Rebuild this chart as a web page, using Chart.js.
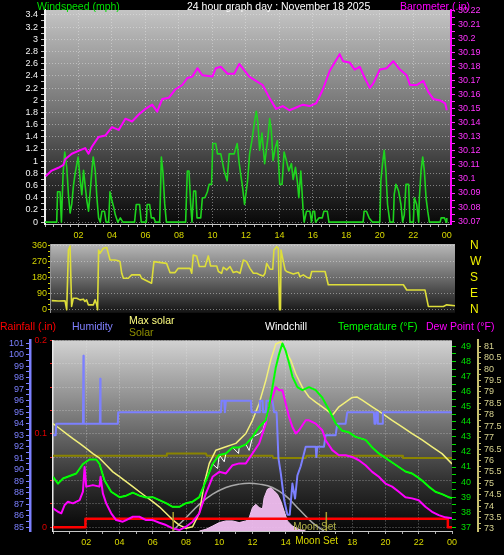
<!DOCTYPE html>
<html>
<head>
<meta charset="utf-8">
<script src="https://cdn.jsdelivr.net/npm/chart.js@4.4.0/dist/chart.umd.min.js"></script>
<style>
body { margin: 0; background: #000; }
#wrap { position: relative; width: 504px; height: 555px; background: #000; overflow: hidden; font-family: "Liberation Sans", Arial, sans-serif; }
canvas { position: absolute; left: 0; }
.lbl { position: absolute; font-size: 10.5px; line-height: 13px; white-space: nowrap; }
</style>
</head>
<body>
<div id="wrap">
  <canvas id="topChart" width="504" height="246" style="top:0px"></canvas>
  <canvas id="dirChart" width="504" height="86" style="top:235px"></canvas>
  <canvas id="bottomChart" width="504" height="225" style="top:330px"></canvas>

  <div class="lbl" style="left:37px;top:0px;color:#00e000">Windspeed (mph)</div>
  <div class="lbl" style="left:187px;top:0px;color:#ffffff">24 hour graph day : November 18 2025</div>
  <div class="lbl" style="left:400px;top:0px;color:#ff00ff">Barometer (.in)</div>

  <div class="lbl" style="left:0px;top:320px;color:#ff0000">Rainfall (.in)</div>
  <div class="lbl" style="left:72px;top:320px;color:#8080ff">Humidity</div>
  <div class="lbl" style="left:129px;top:314px;color:#ffff80">Max solar</div>
  <div class="lbl" style="left:129px;top:326px;color:#909000">Solar</div>
  <div class="lbl" style="left:265px;top:320px;color:#ffffff">Windchill</div>
  <div class="lbl" style="left:338px;top:320px;color:#00ff00">Temperature (°F)</div>
  <div class="lbl" style="left:426px;top:320px;color:#ff00ff">Dew Point (°F)</div>
</div>

<script>
// ---- data (hours since midnight) ----
const hourTicks = [2, 4, 6, 8, 10, 12, 14, 16, 18, 20, 22, 24];
const hourLabels = ['02', '04', '06', '08', '10', '12', '14', '16', '18', '20', '22', '00'];
const bottomHourLabels = ['02', '04', '06', '08', '10', '12', '14', '', '18', '20', '22', '00'];

const windTicks = [0, 0.2, 0.4, 0.6, 0.8, 1, 1.2, 1.4, 1.6, 1.8, 2, 2.2, 2.4, 2.6, 2.8, 3, 3.2, 3.4];
const baroTicks = [30.07, 30.08, 30.09, 30.1, 30.11, 30.12, 30.13, 30.14, 30.15, 30.16, 30.17, 30.18, 30.19, 30.2, 30.21, 30.22];
const dirTicks = [0, 90, 180, 270, 360];
const dirLetters = ['N', 'E', 'S', 'W', 'N'];
const humTicks = [85, 86, 87, 88, 89, 90, 91, 92, 93, 94, 95, 96, 97, 98, 99, 100, 101];
const rainTicks = [0, 0.1, 0.2];
const tempTicks = [37, 38, 39, 40, 41, 42, 43, 44, 45, 46, 47, 48, 49];
const insideTicks = [73, 73.5, 74, 74.5, 75, 75.5, 76, 76.5, 77, 77.5, 78, 78.5, 79, 79.5, 80, 80.5, 81];

const windHours = [
  0, 0.7, 0.75, 0.9, 0.98, 1.08, 1.18, 1.3, 1.4, 1.5,
  1.6, 1.7, 1.8, 1.9, 1.98, 2.1, 2.2, 2.3, 2.4, 2.5,
  2.6, 2.7, 2.8, 2.88, 3.0, 3.1, 3.2, 3.3, 3.4, 3.55,
  3.65, 3.8, 3.88, 4.0, 4.1, 4.2, 4.35, 4.5, 4.65, 5.35,
  5.45, 5.65, 5.75, 6.05, 6.1, 6.25, 6.35, 6.5, 6.6, 6.85,
  6.95, 7.05, 7.15, 7.25, 8.4, 8.5, 8.6, 8.7, 8.78, 8.88,
  9.0, 9.08, 9.3, 9.4, 9.55, 9.7, 9.8, 9.95, 10.02, 10.2,
  10.3, 10.5, 10.7, 10.88, 11.0, 11.3, 11.48, 11.6, 11.8, 11.92,
  12.1, 12.22, 12.36, 12.5, 12.62, 12.72, 12.82, 12.96, 13.12, 13.32,
  13.42, 13.52, 13.62, 13.76, 13.88, 14.02, 14.16, 14.28, 14.42, 14.56,
  14.72, 14.82, 14.96, 15.08, 15.16, 15.28, 15.42, 15.48, 15.62, 15.82,
  15.92, 16.0, 16.1, 16.16, 16.36, 16.56, 16.66, 16.86, 16.96, 19.0,
  19.06, 19.2, 19.36, 19.56, 20.0, 20.06, 20.16, 20.26, 20.36, 20.46,
  20.6, 20.8, 20.86, 20.96, 21.12, 21.26, 21.36, 21.46, 21.56, 21.72,
  21.8, 22.0, 22.06, 22.2, 22.32, 22.36, 22.46, 22.56, 22.66, 22.76,
  22.86, 22.96, 23.6, 23.66, 23.86, 23.96, 24
];
const windSpeed = [
  0, 0, 0.5, 0.5, 0, 0.8, 1.15, 0.9, 0.45, 0.15,
  0.3, 0.6, 0.8, 0.95, 1.07, 0.7, 0.45, 0.85, 0.6, 0.35,
  0.18, 0.5, 0.85, 1.07, 0.85, 0.4, 0.07, 0, 0.18, 0.18,
  0, 0, 0.5, 0.35, 0.25, 0.12, 0, 0.07, 0, 0,
  0.29, 0.29, 0, 0, 0.29, 0.29, 0.07, 0.07, 0, 0,
  1.07, 0.8, 0.3, 0, 0, 0.84, 0.84, 0.3, 0, 0.51,
  0.51, 0.07, 0.07, 0.4, 0.4, 0.5, 0.62, 0.62, 1.29, 1.29,
  1.12, 1.12, 0.84, 0.68, 1.12, 1.12, 1.29, 0.96, 0.57, 0.29,
  0.68, 1.12, 1.34, 1.62, 1.82, 1.62, 1.18, 1.46, 0.96, 1.4,
  1.7, 1.5, 1.01, 1.23, 1.34, 0.62, 0.62, 1.15, 1.01, 0.84,
  0.96, 0.7, 0.9, 0.65, 0.4, 0.84, 0.18, 0, 0.18, 0.18,
  0, 0.18, 0.18, 0, 0.07, 0.07, 0.18, 0.18, 0, 0,
  0.18, 0.18, 0.07, 0, 0, 0.68, 0.96, 1.18, 0.84, 0.29,
  0, 0, 0.46, 0.62, 0.51, 0.29, 0, 0.12, 0.62, 0.62,
  0, 0, 0.4, 0.29, 0, 0.4, 0.84, 1.07, 0.84, 0.4,
  0.18, 0, 0, 0.07, 0.07, 0, 0.07
];

const baroHours = [
  0.04, 0.4, 0.8, 1.1, 1.2, 1.6, 2.0, 2.4, 2.6, 2.8,
  3.2, 3.6, 4.0, 4.4, 4.8, 5.2, 5.6, 6.0, 6.4, 6.7,
  7.0, 7.4, 7.8, 8.2, 8.5, 8.8, 9.1, 9.4, 10.0, 10.2,
  10.5, 10.9, 11.3, 11.6, 11.8, 12.2, 12.6, 13.0, 13.4, 13.8,
  14.2, 14.6, 15.0, 15.4, 15.8, 16.2, 16.6, 17.0, 17.4, 17.6,
  17.8, 18.2, 18.5, 18.8, 19.1, 19.4, 19.6, 20.0, 20.4, 20.8,
  21.2, 21.6, 21.8, 22.2, 22.6, 22.9, 23.2, 23.6, 23.9, 24.0
];
const baroValues = [
  30.102, 30.106, 30.108, 30.110, 30.114, 30.118, 30.120, 30.122, 30.118, 30.123,
  30.130, 30.131, 30.137, 30.135, 30.143, 30.141, 30.146, 30.150, 30.153, 30.148,
  30.157, 30.158, 30.164, 30.167, 30.172, 30.173, 30.179, 30.174, 30.173, 30.179,
  30.180, 30.175, 30.175, 30.182, 30.179, 30.173, 30.170, 30.167, 30.158, 30.150,
  30.152, 30.149, 30.151, 30.153, 30.152, 30.154, 30.164, 30.177, 30.185, 30.189,
  30.184, 30.183, 30.178, 30.180, 30.172, 30.165, 30.168, 30.178, 30.179, 30.184,
  30.178, 30.174, 30.167, 30.167, 30.170, 30.162, 30.157, 30.156, 30.154, 30.149
];

const dirHours = [
  0.1, 0.5, 0.89, 0.99, 1.09, 1.19, 1.22, 1.28, 1.38, 1.58,
  1.78, 1.98, 2.07, 2.17, 2.27, 2.57, 2.67, 2.77, 2.82, 2.88,
  2.96, 3.16, 3.36, 3.56, 3.85, 4.05, 4.15, 4.25, 4.35, 4.64,
  4.84, 5.33, 5.43, 6.02, 6.16, 6.91, 7.11, 7.41, 7.6, 8.3,
  8.4, 8.49, 8.69, 8.85, 9.19, 9.38, 9.52, 9.88, 9.98, 10.17,
  10.27, 10.47, 10.67, 10.86, 11.06, 11.26, 11.46, 11.65, 11.85, 12.05,
  12.25, 12.44, 12.64, 12.74, 12.84, 13.04, 13.2, 13.27, 13.43, 13.53,
  13.6, 13.66, 13.69, 13.83, 13.93, 14.02, 14.42, 14.72, 14.81, 15.01,
  15.21, 15.41, 15.51, 16.3, 16.49, 20.94, 21.14, 22.22, 22.42, 23.31,
  23.51, 24
];
const dirValues = [
  52, 50, 51, 0, 337, 360, 360, 19, 65, 65,
  56, 60, 47, 56, 28, 28, 56, 28, 0, 337,
  319, 347, 352, 281, 281, 277, 272, 206, 178, 178,
  197, 197, 178, 150, 272, 262, 210, 210, 234, 234,
  206, 309, 304, 244, 244, 304, 247, 247, 216, 206,
  240, 225, 244, 210, 216, 206, 281, 272, 234, 206,
  206, 197, 191, 206, 262, 229, 229, 337, 356, 347,
  0, 0, 337, 272, 225, 216, 202, 210, 187, 197,
  184, 178, 216, 216, 141, 141, 112, 112, 19, 19,
  28, 23
];

const tempHours = [
  0, 0.3, 0.6, 1.0, 1.4, 1.8, 2.2, 2.6, 2.8, 3.1,
  3.5, 4.0, 4.4, 4.8, 5.2, 5.6, 6.0, 6.4, 6.8, 7.2,
  7.6, 8.0, 8.4, 8.8, 9.2, 9.6, 10.0, 10.4, 10.8, 11.2,
  11.6, 12.0, 12.4, 12.8, 13.0, 13.2, 13.4, 13.6, 13.8, 14.0,
  14.2, 14.4, 14.7, 15.0, 15.4, 15.8, 16.2, 16.6, 17.0, 17.4,
  17.8, 18.2, 18.8, 19.2, 19.6, 20.2, 20.8, 21.2, 21.6, 21.9,
  22.2, 22.6, 23.0, 23.4, 23.8, 24
];
const tempValues = [
  40.35, 39.9, 40.24, 40.4, 40.57, 41.2, 41.5, 41.5, 41.2, 40.1,
  39.36, 39.0, 39.1, 39.3, 39.1, 38.98, 39.0, 38.8, 38.6, 38.36,
  38.36, 38.6, 38.7, 39.0, 40.1, 41.2, 41.8, 41.9, 42.3, 42.3,
  42.5, 43.0, 43.66, 44.1, 45.0, 46.3, 47.6, 48.5, 49.2, 48.7,
  47.9, 47.0, 46.3, 46.1, 46.3, 46.1, 45.6, 44.8, 43.9, 43.4,
  43.3, 43.0, 42.8, 42.3, 41.9, 41.45, 41.0, 40.7, 40.57, 40.35,
  40.1, 39.7, 39.36, 39.2, 39.0, 38.95
];

const chillHours = [
  0, 0.3, 0.6, 1.0, 1.4, 1.8, 2.2, 2.6, 2.8, 3.1,
  3.5, 4.0, 4.4, 4.8, 5.2, 5.6, 6.0, 6.4, 6.8, 7.2,
  7.6, 8.0, 8.4, 8.8, 9.2, 9.6, 9.9, 10.0, 10.3, 10.4,
  10.8, 11.16, 11.2, 11.6, 11.8, 12.0, 12.4, 12.64, 12.8, 13.0,
  13.2, 13.4, 13.6, 13.8, 14.0, 14.2, 14.4, 14.7, 15.0, 15.4,
  15.8, 16.2, 16.6, 17.0, 17.4, 17.8, 18.2, 18.8, 19.2, 19.6,
  20.2, 20.8, 21.2, 21.6, 21.9, 22.2, 22.6, 23.0, 23.4, 23.8,
  24
];
const chillValues = [
  40.35, 39.9, 40.24, 40.4, 40.57, 41.2, 41.5, 41.5, 41.2, 40.1,
  39.36, 39.0, 39.1, 39.3, 39.1, 38.98, 39.0, 38.8, 38.6, 38.36,
  38.36, 38.6, 38.7, 39.0, 40.1, 41.2, 40.9, 41.8, 41.35, 41.9,
  42.3, 41.9, 42.3, 42.5, 42.1, 43.0, 43.2, 43.5, 44.1, 45.0,
  46.3, 47.6, 48.5, 49.2, 48.7, 47.9, 47.0, 46.3, 46.1, 46.3,
  46.1, 45.6, 44.8, 43.9, 43.4, 43.3, 43.0, 42.8, 42.3, 41.9,
  41.45, 41.0, 40.7, 40.57, 40.35, 40.1, 39.7, 39.36, 39.2, 39.0,
  38.95
];

const dewHours = [
  0, 0.3, 0.5, 0.7, 0.9, 1.2, 1.6, 1.8, 1.9, 2.0,
  2.4, 2.8, 2.86, 3.0, 3.2, 3.5, 3.8, 4.2, 4.4, 4.8,
  5.2, 5.6, 6.0, 6.4, 6.8, 7.2, 7.6, 8.0, 8.4, 8.8,
  9.2, 9.6, 10.0, 10.4, 10.8, 11.2, 11.6, 12.0, 12.4, 12.8,
  13.0, 13.2, 13.4, 13.6, 13.8, 14.0, 14.2, 14.4, 14.6, 14.8,
  15.0, 15.2, 15.4, 15.8, 16.2, 16.4, 16.8, 17.2, 17.6, 18.0,
  18.4, 18.8, 19.2, 19.6, 20.0, 20.4, 20.8, 21.2, 21.6, 22.0,
  22.4, 22.8, 23.2, 23.6, 24
];
const dewValues = [
  38.26, 38.03, 37.93, 38.48, 38.7, 38.59, 38.8, 39.36, 41.0, 39.7,
  39.8, 39.7, 40.35, 39.25, 38.59, 37.93, 37.48, 37.37, 37.48, 37.7,
  37.7, 37.48, 37.48, 37.3, 37.15, 36.93, 36.82, 37.04, 37.37, 37.93,
  39.25, 40.35, 40.68, 40.57, 41.12, 41.24, 41.24, 41.9, 42.56, 43.88,
  45.0, 45.64, 46.3, 46.09, 46.09, 45.2, 44.32, 43.66, 43.22, 43.44,
  43.77, 44.1, 44.1, 43.88, 43.44, 42.78, 42.12, 41.78, 41.78, 41.67,
  41.45, 41.12, 40.68, 40.35, 39.9, 39.7, 39.36, 39.0, 38.92, 38.8,
  38.36, 38.03, 37.81, 37.66, 37.6
];

const humHours = [
  0, 0.16, 0.2, 1.8, 1.83, 1.85, 1.87, 2.82, 2.84, 2.86,
  3.9, 3.92, 10.1, 10.14, 10.3, 10.34, 10.4, 11.9, 11.94, 12.4,
  12.44, 12.6, 12.64, 12.8, 12.84, 13.2, 13.3, 13.45, 13.56, 13.7,
  13.9, 14.1, 14.24, 14.4, 14.56, 14.7, 14.9, 15.2, 15.8, 15.84,
  15.9, 16.3, 16.4, 17.0, 17.1, 17.6, 17.7, 19.3, 19.34, 19.4,
  19.44, 19.5, 19.54, 19.6, 19.8, 19.84, 24
];
const humValues = [
  93, 93, 94, 94, 99.9, 94, 94, 94, 97.9, 94,
  94, 95, 95, 96, 96, 95, 96, 96, 95, 95,
  96, 96, 95, 95, 96, 96, 95, 95, 91, 89.7,
  87.4, 86.1, 86.1, 88.8, 87.5, 89.5, 90.3, 92, 92, 91.1,
  92, 92, 93, 93, 94, 94, 95, 95, 94, 94,
  95, 95, 94, 94, 94, 95, 95
];

const insideHours = [
  0, 0.4, 0.8, 1.2, 1.6, 2.0, 2.4, 2.8, 3.2, 3.6,
  4.0, 4.4, 4.8, 5.2, 5.6, 6.0, 6.4, 6.8, 7.2, 7.6,
  8.0, 8.4, 8.8, 9.1, 9.4, 9.8, 10.4, 11.0, 11.6, 12.0,
  12.4, 12.8, 13.1, 13.4, 13.7, 14.0, 14.3, 14.6, 15.0, 15.4,
  15.8, 16.2, 16.6, 16.8, 17.2, 17.6, 18.0, 18.3, 18.6, 19.2,
  19.8, 20.4, 21.0, 21.6, 22.2, 22.8, 23.4, 24
];
const insideValues = [
  77.62, 77.4, 77.18, 76.96, 76.75, 76.53, 76.3, 76.1, 75.8, 75.5,
  75.29, 75.07, 74.85, 74.63, 74.41, 74.2, 73.97, 73.69, 73.4, 73.17,
  73.03, 73.1, 73.69, 75.0, 75.87, 76.45, 76.6, 76.75, 77.18, 77.76,
  78.5, 79.5, 80.4, 81.1, 81.2, 80.8, 80.4, 79.8, 79.2, 78.78,
  78.56, 78.35, 78.13, 77.98, 78.35, 78.56, 78.76, 78.78, 78.64, 78.35,
  78.06, 77.76, 77.47, 77.18, 76.9, 76.6, 76.3, 75.85
];

const oliveHours = [0, 6.8, 6.85, 9.2, 9.25, 13.2, 13.25, 15.2, 15.25, 21.0, 21.05, 24];
const oliveValues = [41.75, 41.75, 41.9, 41.9, 41.75, 41.75, 41.6, 41.6, 41.75, 41.75, 41.6, 41.6];

const rainHours = [0, 1.95, 1.95, 23.75, 23.75, 24];
const rainValues = [0, 0, 0.009, 0.009, 0, 0];

const solarHours = [8.8, 9.2, 9.6, 10.0, 10.4, 10.8, 11.2, 11.6, 11.8, 12.0, 12.2, 12.4, 12.6, 12.7, 12.9, 13.1, 13.3, 13.5, 13.7, 13.9, 14.1, 14.4, 14.8, 15.2];
const solarValues = [0, 9, 26, 44, 53, 53, 44, 53, 70, 123, 140, 123, 116, 175, 219, 228, 211, 193, 158, 105, 53, 26, 9, 0];

const maxSolarHours = [7.2, 8.0, 8.8, 9.6, 10.4, 11.2, 11.8, 12.4, 13.2, 14.0, 14.8, 15.6, 16.3];
const maxSolarValues = [0, 70, 140, 193, 228, 246, 251, 246, 228, 184, 114, 44, 0];

const sunHours = [7.23, 16.44];
const moonSetHour = 14.45;

// ---- helpers ----
Chart.defaults.font.family = '"Liberation Sans", Arial, sans-serif';
const tickFont = { size: 9 };
const gridColor = 'rgba(235,235,235,0.45)';

function pts(xs, ys) {
  return xs.map((x, i) => ({ x: x, y: ys[i] }));
}

function steps(from, to, step) {
  let out = [];
  let n = Math.round((to - from) / step);
  for (let i = 0; i <= n; i++) out.push(Math.round((from + i * step) * 10000) / 10000);
  return out;
}

function near(list, v) {
  return list.findIndex(t => Math.abs(t - v) < 1e-6);
}

function yAxis(o) {
  return {
    type: 'linear',
    position: o.position,
    display: true,
    min: o.min,
    max: o.max,
    weight: o.weight || 0,
    afterBuildTicks: s => { s.ticks = o.all.map(v => ({ value: v })); },
    afterFit: s => { s.width = o.width; },
    ticks: {
      color: o.color,
      font: o.font || tickFont,
      padding: o.padding,
      autoSkip: false,
      callback: v => {
        let i = near(o.major, v);
        if (i < 0) return '';
        return o.labels ? o.labels[i] : String(+v.toFixed(3));
      }
    },
    grid: {
      drawOnChartArea: !!o.grid,
      color: ctx => (o.grid && ctx.tick && near(o.grid, ctx.tick.value) >= 0) ? gridColor : 'rgba(0,0,0,0)',
      tickColor: o.tickColor || o.color,
      tickLength: o.tickLength
    },
    border: {
      display: o.borderWidth > 0,
      color: o.borderColor || o.color,
      width: o.borderWidth || 0,
      dash: [1, 2]
    }
  };
}

function xAxis(o) {
  return {
    type: 'linear',
    display: o.display !== false,
    min: 0,
    max: o.max,
    afterBuildTicks: s => { s.ticks = o.all.map(v => ({ value: v })); },
    afterFit: s => { s.height = o.height; },
    ticks: {
      color: '#d8d800',
      font: tickFont,
      padding: o.padding,
      autoSkip: false,
      maxRotation: 0,
      callback: v => {
        let i = near(hourTicks, v);
        return i < 0 ? '' : o.labels[i];
      }
    },
    grid: {
      color: ctx => (ctx.tick && near(hourTicks, ctx.tick.value) >= 0 && ctx.tick.value < 24) ? gridColor : 'rgba(0,0,0,0)',
      tickColor: '#b0b0b0',
      tickLength: 3
    },
    border: { color: '#c8c8c8', width: 1, dash: [1, 2] }
  };
}

const plotBg = {
  id: 'plotBg',
  beforeDraw(chart, args, opts) {
    const a = chart.chartArea;
    const c = chart.ctx;
    const g = c.createLinearGradient(0, a.top, 0, a.bottom);
    opts.stops.forEach(s => g.addColorStop(s[0], s[1]));
    c.save();
    c.fillStyle = g;
    c.fillRect(a.left, a.top, a.right - a.left, a.bottom - a.top);
    c.restore();
  }
};

const sunMarks = {
  id: 'sunMarks',
  afterDatasetsDraw(chart) {
    const c = chart.ctx;
    const a = chart.chartArea;
    const x = chart.scales.x;
    c.save();
    c.strokeStyle = '#a8a030';
    c.lineWidth = 1.5;
    sunHours.forEach(h => {
      let px = x.getPixelForValue(h);
      c.beginPath();
      c.moveTo(px, a.bottom - 19);
      c.lineTo(px, a.bottom);
      c.stroke();
    });
    c.font = '10px "Liberation Sans", Arial, sans-serif';
    c.textBaseline = 'middle';
    c.fillStyle = '#b0b048';
    c.fillText('Moon Set', x.getPixelForValue(moonSetHour), a.bottom - 4);
    c.fillStyle = '#d8d800';
    c.fillText('Moon Set', x.getPixelForValue(moonSetHour) + 2, a.bottom + 10);
    c.restore();
  }
};

function lineSet(xs, ys, color, width, axis, extra) {
  return Object.assign({
    data: pts(xs, ys),
    borderColor: color,
    borderWidth: width,
    yAxisID: axis,
    pointRadius: 0,
    tension: 0,
    fill: false,
    borderJoinStyle: 'round'
  }, extra || {});
}

const baseOptions = {
  responsive: false,
  animation: false,
  events: []
};

// ---- top chart: windspeed + barometer ----
new Chart(document.getElementById('topChart'), {
  type: 'line',
  data: {
    datasets: [
      lineSet(baroHours, baroValues, '#ff00ff', 2, 'baro'),
      lineSet(windHours, windSpeed, '#1ed31e', 1.6, 'wind')
    ]
  },
  options: Object.assign({}, baseOptions, {
    layout: { padding: { top: 10, bottom: 0, left: 0, right: 0 } },
    plugins: {
      legend: { display: false },
      tooltip: { enabled: false },
      plotBg: { stops: [[0, '#c4c4c4'], [0.45, '#767676'], [0.75, '#363636'], [1, '#080808']] }
    },
    scales: {
      x: xAxis({ max: 24.25, all: steps(0, 24, 0.5), labels: hourLabels, height: 22, padding: 3 }),
      wind: yAxis({
        position: 'left', min: -0.03, max: 3.48, width: 45,
        all: steps(0, 3.4, 0.1), major: windTicks, grid: windTicks,
        color: '#f4f4f4', tickColor: '#c8c8c8', tickLength: 4, padding: 3,
        borderColor: '#f0f0f0', borderWidth: 2
      }),
      baro: yAxis({
        position: 'right', min: 30.0679, max: 30.2205, width: 53,
        all: steps(30.07, 30.22, 0.005), major: baroTicks,
        color: '#ff33ff', tickLength: 4, padding: 3,
        borderColor: '#ff00ff', borderWidth: 2
      })
    }
  }),
  plugins: [plotBg]
});

// ---- middle chart: wind direction ----
new Chart(document.getElementById('dirChart'), {
  type: 'line',
  data: {
    datasets: [lineSet(dirHours, dirValues, '#dede3a', 1.6, 'dir')]
  },
  options: Object.assign({}, baseOptions, {
    layout: { padding: { top: 9, bottom: 8.2, left: 0, right: 0 } },
    plugins: {
      legend: { display: false },
      tooltip: { enabled: false },
      plotBg: { stops: [[0, '#b8b8b8'], [0.5, '#6a6a6a'], [1, '#141414']] }
    },
    scales: {
      x: { type: 'linear', display: false, min: 0, max: 24 },
      dir: yAxis({
        position: 'left', min: -16.9, max: 371.25, width: 50,
        all: steps(0, 360, 30), major: dirTicks, grid: dirTicks,
        color: '#d4d400', tickLength: 2, padding: 1,
        borderColor: '#909090', borderWidth: 1
      }),
      compass: yAxis({
        position: 'right', min: -16.9, max: 371.25, width: 49,
        all: dirTicks, major: dirTicks, labels: dirLetters,
        color: '#f0f000', tickColor: 'rgba(0,0,0,0)', font: { size: 12 }, tickLength: 14, padding: 1,
        borderWidth: 0
      })
    }
  }),
  plugins: [plotBg]
});

// ---- bottom chart: temperatures, humidity, rain, solar ----
new Chart(document.getElementById('bottomChart'), {
  type: 'line',
  data: {
    datasets: [
      lineSet(tempHours, tempValues, '#00ff00', 2, 'temp'),
      lineSet(dewHours, dewValues, '#ff00ff', 2, 'temp'),
      lineSet(chillHours, chillValues, '#ffffff', 1, 'temp'),
      lineSet(humHours, humValues, '#7c80ff', 2, 'hum'),
      lineSet(insideHours, insideValues, '#f2f07a', 1.5, 'inside'),
      lineSet(rainHours, rainValues, '#ff0000', 2.5, 'rain'),
      lineSet(oliveHours, oliveValues, '#8a8400', 2, 'temp'),
      lineSet(maxSolarHours, maxSolarValues, '#a8a8a8', 1.5, 'solar', { tension: 0.4 }),
      lineSet(solarHours, solarValues, 'rgba(242,196,242,1)', 1, 'solar', { fill: 'origin', backgroundColor: 'rgba(240,190,240,0.95)' })
    ]
  },
  options: Object.assign({}, baseOptions, {
    layout: { padding: { top: 10, bottom: 0, left: 0, right: 0 } },
    plugins: {
      legend: { display: false },
      tooltip: { enabled: false },
      plotBg: { stops: [[0, '#d2d2d2'], [0.45, '#707070'], [0.75, '#2e2e2e'], [1, '#060606']] }
    },
    scales: {
      x: xAxis({ max: 24, all: steps(0, 24, 1), labels: bottomHourLabels, height: 24, padding: 3 }),
      rain: yAxis({
        position: 'left', weight: 0, min: -0.004, max: 0.2, width: 23,
        all: steps(0, 0.2, 0.025), major: rainTicks, grid: steps(0, 0.2, 0.025),
        color: '#dd0000', tickColor: '#dd2020', tickLength: 3, padding: 3,
        borderColor: '#e8e8e8', borderWidth: 1.5
      }),
      hum: yAxis({
        position: 'left', weight: 1, min: 84.68, max: 101.23, width: 30,
        all: steps(85, 101, 0.5), major: humTicks,
        color: '#7c80ff', tickLength: 4, padding: 2,
        borderColor: '#7c80ff', borderWidth: 2.5
      }),
      temp: yAxis({
        position: 'right', weight: 0, min: 36.755, max: 49.4, width: 26,
        all: steps(37, 49, 0.5), major: tempTicks,
        color: '#00e000', tickLength: 4, padding: 5,
        borderWidth: 0
      }),
      inside: yAxis({
        position: 'right', weight: 1, min: 72.91, max: 81.26, width: 26,
        all: steps(73, 81, 0.25), major: insideTicks,
        color: '#d8d490', tickColor: '#c8c070', tickLength: 3, padding: 3,
        borderColor: '#c8c070', borderWidth: 2
      }),
      solar: { type: 'linear', display: false, min: 0, max: 1000 }
    }
  }),
  plugins: [plotBg, sunMarks]
});
</script>
</body>
</html>
